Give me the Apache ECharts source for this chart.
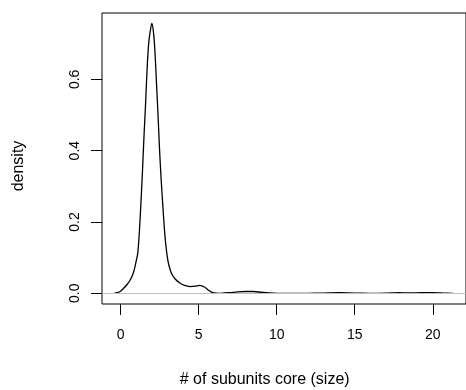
<!DOCTYPE html>
<html><head><meta charset="utf-8">
<script src="https://cdn.jsdelivr.net/npm/echarts@6/dist/echarts.min.js"></script>
<style>html,body{margin:0;padding:0;background:#fff}#c{width:466px;height:390px}</style>
</head><body><div id="c"></div>
<script>
var sizeX = [-0.4,-0.2,0,0.2,0.4,0.6,0.8,0.9,1.0,1.1,1.2,1.3,1.4,1.5,1.6,1.7,1.8,1.9,2.0,2.1,2.2,2.3,2.4,2.5,2.6,2.7,2.8,2.9,3.0,3.1,3.25,3.5,3.8,4.1,4.45,4.8,5.07,5.4,5.65,5.92,6.35,7.0,7.5,8.0,8.5,9.0,9.5,10,11,12,13,14,15,16,17,17.8,18.5,19.2,20,20.6,21.3];
var densityY = [0,0.002,0.006,0.014,0.024,0.036,0.055,0.07,0.09,0.112,0.17,0.25,0.34,0.44,0.53,0.63,0.70,0.735,0.757,0.735,0.68,0.59,0.50,0.40,0.32,0.25,0.185,0.135,0.10,0.078,0.057,0.04,0.029,0.022,0.019,0.02,0.022,0.017,0.008,0.002,0,0.002,0.004,0.005,0.005,0.003,0.001,0,0,0,0.0005,0.0015,0.0005,0,0.0005,0.002,0.0008,0.0015,0.002,0.0008,0];
var xTicks = [0,5,10,15,20];
var yTicks = [0,0.2,0.4,0.6];
var yTickLabels = ['0.0','0.2','0.4','0.6'];
var xTitle = '# of subunits core (size)';
var yTitle = 'density';

var pts = sizeX.map(function(x,i){return [x, densityY[i]];});
var font = 'Liberation Sans, Arial, Helvetica, sans-serif';
var chart = echarts.init(document.getElementById('c'));
chart.setOption({
  animation:false,
  grid:{left:102, top:13, right:-1, bottom:86, show:true, borderColor:'#000', borderWidth:1, backgroundColor:'transparent'},
  xAxis:{type:'value', min:-1.19, max:22.13,
    axisLine:{show:false, onZero:false}, splitLine:{show:false},
    axisTick:{show:true, inside:false, length:11, lineStyle:{color:'#000', width:1}, customValues:xTicks},
    axisLabel:{color:'#000', fontSize:14, fontFamily:font, margin:24, customValues:xTicks}},
  yAxis:{type:'value', min:-0.0300, max:0.786,
    axisLine:{show:false, onZero:false}, splitLine:{show:false},
    axisTick:{show:true, inside:false, length:11, lineStyle:{color:'#000', width:1}, customValues:yTicks},
    axisLabel:{color:'#000', fontSize:14, fontFamily:font, margin:20, rotate:90, customValues:yTicks,
      formatter:function(v){var i=yTicks.indexOf(Math.round(v*10)/10);return i>=0?yTickLabels[i]:v.toFixed(1);}}},
  graphic:[
    {type:'text', x:264.7, y:379.5, style:{text:xTitle, font:'16px '+font, fill:'#000', textAlign:'center', textVerticalAlign:'middle'}},
    {type:'text', x:19, y:166, rotation:Math.PI/2, style:{text:yTitle, font:'16px '+font, fill:'#000', textAlign:'center', textVerticalAlign:'middle'}}
  ],
  series:[{type:'line', data:pts, showSymbol:false, smooth:0.25,
    lineStyle:{color:'#000', width:1.3},
    markLine:{silent:true, symbol:'none', label:{show:false}, lineStyle:{color:'#bebebe', width:1, type:'solid'}, data:[{yAxis:0}]}}]
});
</script></body></html>
